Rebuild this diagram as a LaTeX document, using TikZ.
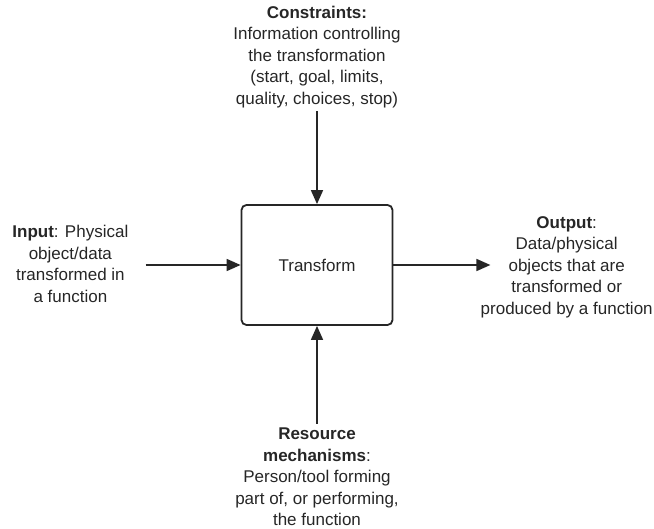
\documentclass[tikz,border=0pt]{standalone}
\usepackage{fontspec}
\setmainfont{Liberation Sans}
\usetikzlibrary{arrows.meta,positioning}
\definecolor{inkgray}{HTML}{262626}

\begin{document}
\begin{tikzpicture}[x=1pt,y=1pt,semithick,
		every node/.style={text=inkgray,font=\fontsize{17}{21.5}\selectfont},
		labeltext/.style={align=center,inner sep=0pt},
		flow/.style={draw=inkgray,line width=1.6pt,-{Triangle[length=14pt,width=12pt]}}]
		\useasboundingbox (0,0) rectangle (654,-529);

		\node[draw=inkgray,line width=1.8pt,rounded corners=5pt,minimum width=151pt,minimum height=120pt] (box) at (317,-265) {Transform};

		\node[labeltext,above=96pt of box] (con) {\textbf{Constraints:}\\Information controlling\\the transformation\\(start, goal, limits,\\quality, choices, stop)};
		\node[labeltext,left=112pt of box,yshift=1pt] (in) {\textbf{Input}: Physical\\object/data\\transformed in\\a function};
		\node[labeltext,right=87pt of box,yshift=-2pt] (out) {\textbf{Output}:\\Data/physical\\objects that are\\transformed or\\produced by a function};
		\node[labeltext,below=102pt of box] (res) {\textbf{Resource}\\\textbf{mechanisms}:\\Person/tool forming\\part of, or performing,\\the function};

		\draw[flow,shorten <=3pt] (con) -- (box);
		\draw[flow,shorten <=17pt] (in.east |- box.west) -- (box.west);
		\draw[flow,shorten >=-10pt] (box.east) -- (out.west |- box.east);
		\draw[flow,shorten <=4pt] (res) -- (box);
	\end{tikzpicture}
\end{document}
